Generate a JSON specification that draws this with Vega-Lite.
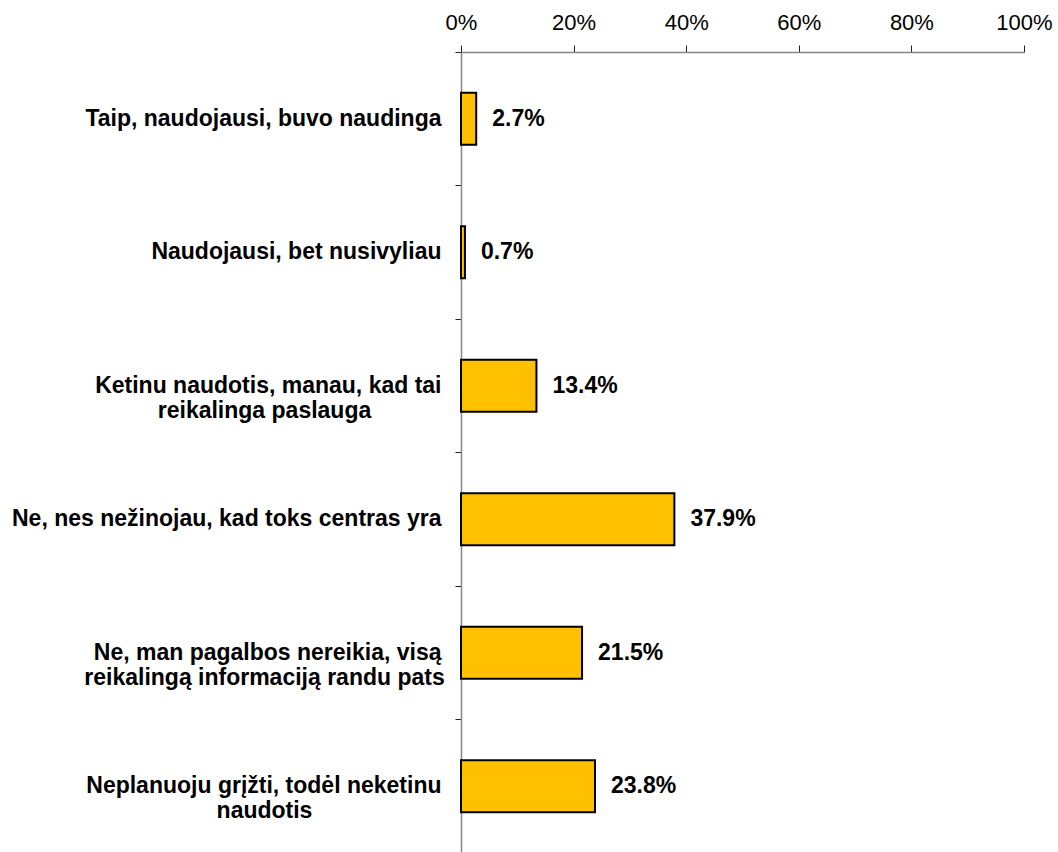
{
  "$schema": "https://vega.github.io/schema/vega-lite/v6.json",
  "width": 563,
  "height": 801,
  "padding": {"left": 11, "top": 11, "right": 5, "bottom": 0},
  "autosize": {"type": "pad"},
  "background": "#ffffff",
  "config": {"view": {"stroke": null}, "font": "Liberation Sans"},
  "data": {
    "values": [
      {"category": "Taip, naudojausi, buvo naudinga", "share": 0.027},
      {"category": "Naudojausi, bet nusivyliau", "share": 0.007},
      {"category": "Ketinu naudotis, manau, kad tai\nreikalinga paslauga", "share": 0.134},
      {"category": "Ne, nes nežinojau, kad toks centras yra", "share": 0.379},
      {"category": "Ne, man pagalbos nereikia, visą\nreikalingą informaciją randu pats", "share": 0.215},
      {"category": "Neplanuoju grįžti, todėl neketinu\nnaudotis", "share": 0.238}
    ]
  },
  "encoding": {
    "x": {
      "field": "share", "type": "quantitative",
      "scale": {"domain": [0, 1], "nice": false},
      "axis": {
        "orient": "top", "title": null, "values": [0, 0.2, 0.4, 0.6, 0.8, 1], "format": ".0%",
        "grid": false, "domainColor": "#868686", "domainWidth": 1.5,
        "tickColor": "#202020", "tickSize": 7, "tickWidth": 1,
        "labelFontSize": 22, "labelColor": "#000000", "labelPadding": 11, "labelFont": "Liberation Sans",
        "labelFlush": false, "labelOverlap": false
      }
    }
  },
  "layer": [
    {
      "mark": {"type": "bar", "height": {"band": 0.39}, "fill": "#FFC000", "stroke": "#000000", "strokeWidth": 2},
      "encoding": {
        "y": {
          "field": "category", "type": "nominal", "sort": null,
          "scale": {"paddingInner": 0, "paddingOuter": 0},
          "axis": {
            "orient": "left", "title": null,
            "domain": true, "domainColor": "#868686", "domainWidth": 1.5,
            "ticks": true, "tickSize": 6, "tickColor": "#202020", "bandPosition": 0,
            "labelAlign": "right", "labelBaseline": "middle", "labelPadding": 14,
            "labelFontSize": 23, "labelFontWeight": "bold", "labelColor": "#000000", "labelFont": "Liberation Sans",
            "labelLineHeight": 25, "labelLimit": 600, "labelOverlap": false,
            "labelExpr": "length(split(datum.value,'\\n'))>1 ? [split(datum.value,'\\n')[0], ''] : datum.value"
          }
        }
      }
    },
    {
      "mark": {"type": "text", "align": "left", "baseline": "middle", "dx": 16, "fontSize": 23, "fontWeight": "bold", "color": "#000000", "font": "Liberation Sans"},
      "encoding": {
        "y": {
          "field": "category", "type": "nominal", "sort": null,
          "axis": {
            "orient": "left", "title": null,
            "domain": false, "ticks": false, "tickSize": 0,
            "labelAlign": "center", "labelBaseline": "middle", "labelPadding": 197,
            "labelFontSize": 23, "labelFontWeight": "bold", "labelColor": "#000000", "labelFont": "Liberation Sans",
            "labelLineHeight": 25, "labelLimit": 600, "labelOverlap": false,
            "labelExpr": "length(split(datum.value,'\\n'))>1 ? ['', split(datum.value,'\\n')[1]] : ''"
          }
        },
        "text": {"field": "share", "type": "quantitative", "format": ".1%"}
      }
    }
  ],
  "resolve": {"axis": {"y": "independent"}}
}
